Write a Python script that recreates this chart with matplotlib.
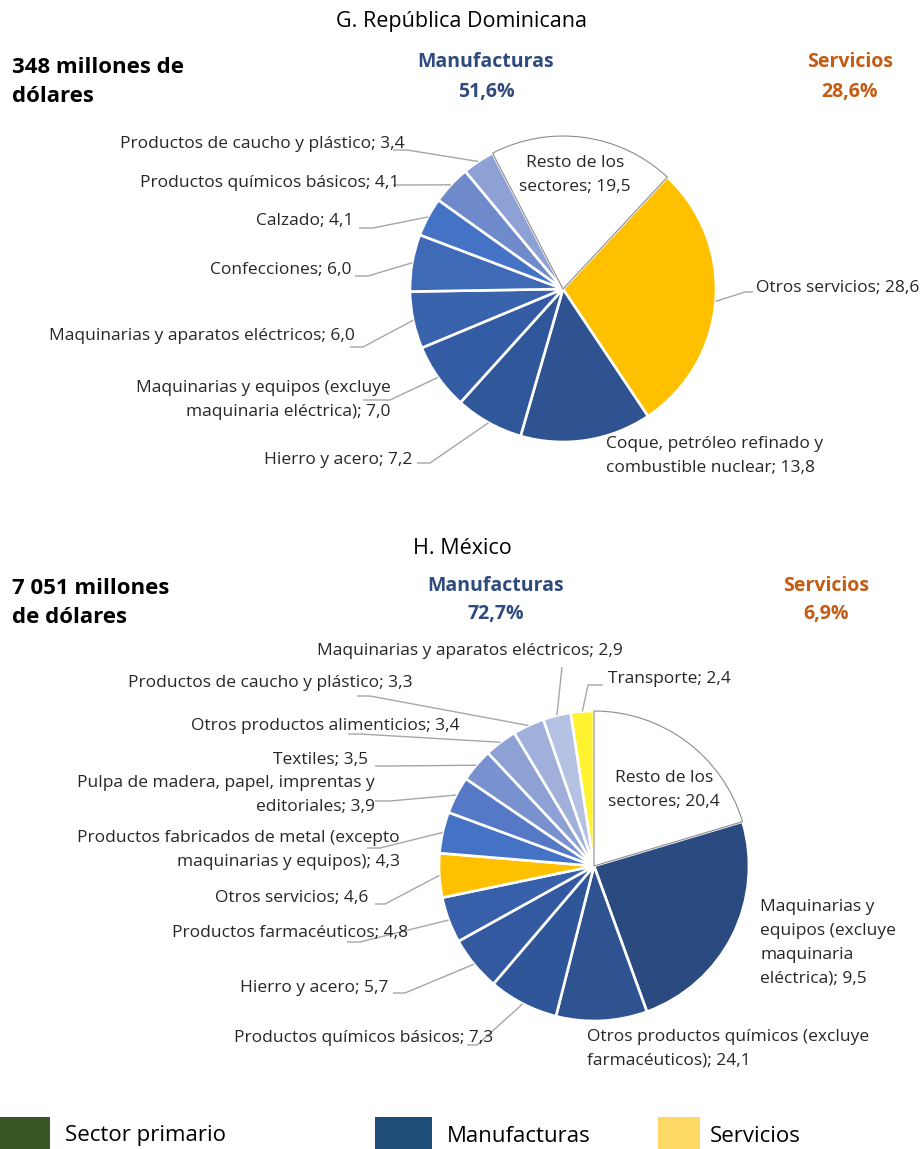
import numpy as np
import matplotlib
matplotlib.use("Agg")
import matplotlib.pyplot as plt
from matplotlib.patches import Rectangle

W, H = 924, 1149
plt.rcParams['font.family'] = ['Open Sans', 'DejaVu Sans']

# --- data: G. Republica Dominicana (clockwise from the first slice) ---
dr_names = ["Otros servicios",
            "Coque, petróleo refinado y\ncombustible nuclear",
            "Hierro y acero",
            "Maquinarias y equipos (excluye\nmaquinaria eléctrica)",
            "Maquinarias y aparatos eléctricos",
            "Confecciones",
            "Calzado",
            "Productos químicos básicos",
            "Productos de caucho y plástico",
            "Resto de los\nsectores"]
dr_values = [28.6, 13.8, 7.2, 7.0, 6.0, 6.0, 4.1, 4.1, 3.4, 19.5]
dr_colors = ["#FFC000", "#2F5290", "#31579B", "#345CA4", "#3A63AE",
             "#3E6AB7", "#4472C4", "#6F8ACB", "#8EA1D5", "#FFFFFF"]
dr_total = "348 millones de\ndólares"
dr_manuf = "51,6%"
dr_serv = "28,6%"

# --- data: H. Mexico ---
mx_names = ["Resto de los\nsectores",
            "Otros productos químicos (excluye\nfarmacéuticos)",
            "Maquinarias y\nequipos (excluye\nmaquinaria\neléctrica)",
            "Productos químicos básicos",
            "Hierro y acero",
            "Productos farmacéuticos",
            "Otros servicios",
            "Productos fabricados de metal (excepto\nmaquinarias y equipos)",
            "Pulpa de madera, papel, imprentas y\neditoriales",
            "Textiles",
            "Otros productos alimenticios",
            "Productos de caucho y plástico",
            "Maquinarias y aparatos eléctricos",
            "Transporte"]
mx_values = [20.4, 24.1, 9.5, 7.3, 5.7, 4.8, 4.6, 4.3, 3.9, 3.5, 3.4, 3.3, 2.9, 2.4]
mx_colors = ["#FFFFFF", "#2B4B80", "#2F5290", "#30569A", "#335AA1", "#3860AA",
             "#FFC000", "#4472C4", "#5679C7", "#7A91CF", "#8EA1D5", "#A0B0DA",
             "#B4C1E2", "#FFF22F"]
mx_total = "7 051 millones\nde dólares"
mx_manuf = "72,7%"
mx_serv = "6,9%"

legend_names = ["Sector primario", "Manufacturas", "Servicios"]
legend_colors = ["#375623", "#1F4E79", "#FFD966"]

# label layout in pixels (top-down): text x, text y, ha, leader attach (x, y), elbow x
dr_layout = [
    (756, 288, 'left', (753, 292), 745),
    (606, 456, 'left', None, None),
    (412, 460, 'right', (417, 463), 430),
    (391, 400, 'right', (363, 400), 390),
    (355, 336, 'right', (350, 347), 363),
    (352, 270, 'right', (355, 276), 368),
    (353, 221, 'right', (359, 228), 373),
    (399, 183, 'right', (393, 185), 393),
    (405, 144, 'right', (393, 150), 407),
    (575, 175, 'center', None, None),
]
mx_layout = [
    (664, 790, 'center', None, None),
    (587, 1049, 'left', None, None),
    (760, 943, 'left', None, None),
    (493, 1038, 'right', (467, 1045), 477),
    (388, 988, 'right', (393, 993), 405),
    (408, 933, 'right', (347, 942), 360),
    (368, 898, 'right', (375, 904), 385),
    (400, 850, 'right', (367, 848), 380),
    (375, 795, 'right', (375, 801), 390),
    (368, 760, 'right', (375, 766), 388),
    (460, 726, 'right', (348, 734), 360),
    (413, 683, 'right', (357, 696), 370),
    (470, 651, 'center', (562, 667), 562),
    (608, 679, 'left', (603, 685), 588),
]


def fmt(v):
    return f"{v:.1f}".replace('.', ',')


def Y(py):
    return H - py


fig = plt.figure(figsize=(W / 100, H / 100), dpi=100)
ax = fig.add_axes([0, 0, 1, 1])

LABEL_FS = 12.5
TXT = '#262626'
LEAD = '#A6A6A6'


def draw_pie(values, names, colors, layout, center, radius, startangle, rest_idx):
    cx, cy = center[0], Y(center[1])
    wedges, _ = ax.pie(values, colors=colors, startangle=startangle,
                       counterclock=False, center=(cx, cy), radius=radius,
                       wedgeprops=dict(edgecolor='white', linewidth=1.9))
    rest = wedges[rest_idx]
    rest.set_edgecolor('#8C8C8C')
    rest.set_linewidth(0.8)
    rest.set_zorder(5)
    for w, name, v, lay in zip(wedges, names, values, layout):
        tx, ty, ha, attach, elbow = lay
        label = f"{name}; {fmt(v)}"
        ax.text(tx, Y(ty), label, ha=ha, va='center', fontsize=LABEL_FS,
                color=TXT, multialignment=ha, linespacing=1.65, zorder=6)
        if attach is not None:
            mid = np.deg2rad((w.theta1 + w.theta2) / 2)
            ex = cx + radius * np.cos(mid)
            ey = cy + radius * np.sin(mid)
            ax.plot([attach[0], elbow, ex], [Y(attach[1]), Y(attach[1]), ey],
                    color=LEAD, lw=1.0, zorder=4, solid_capstyle='butt')


def draw_header(title, title_y, total, total_y, manuf, manuf_x, serv, serv_x, head_y, gap):
    ax.text(W / 2, Y(title_y), title, ha='center', va='center', fontsize=15.5, color='black')
    ax.text(12, Y(total_y), total, ha='left', va='center', fontsize=16,
            fontweight='bold', color='black', linespacing=1.55)
    for x, name, val, col in [(manuf_x, "Manufacturas", manuf, '#2E4A7E'),
                              (serv_x, "Servicios", serv, '#C55A11')]:
        ax.text(x, Y(head_y), name, ha='center', va='center',
                fontsize=14, fontweight='bold', color=col)
        ax.text(x, Y(head_y + gap), val, ha='center', va='center',
                fontsize=14, fontweight='bold', color=col)


draw_header("G. República Dominicana", 22, dr_total, 82, dr_manuf, 486, dr_serv, 850, 62, 30)
draw_pie(dr_values, dr_names, dr_colors, dr_layout, (563, 289), 153, 90 - 43, 9)

draw_header("H. México", 548, mx_total, 603, mx_manuf, 496, mx_serv, 826, 586, 28)
draw_pie(mx_values, mx_names, mx_colors, mx_layout, (594, 866), 155, 90, 0)

# legend along the bottom edge
leg_boxes = [(0, 50), (375, 57), (658, 42)]
leg_text_x = [65, 447, 710]
for (bx, bw), tx, name, col in zip(leg_boxes, leg_text_x, legend_names, legend_colors):
    ax.add_patch(Rectangle((bx, Y(1149)), bw, 32, facecolor=col, edgecolor='none'))
    ax.text(tx, Y(1136), name, ha='left', va='center', fontsize=16, color='black')

# ax.pie resets the limits, so fix the pixel frame last
ax.set_xlim(0, W)
ax.set_ylim(0, H)
ax.set_aspect('equal')
ax.axis('off')

fig.savefig("out.png", dpi=100)
